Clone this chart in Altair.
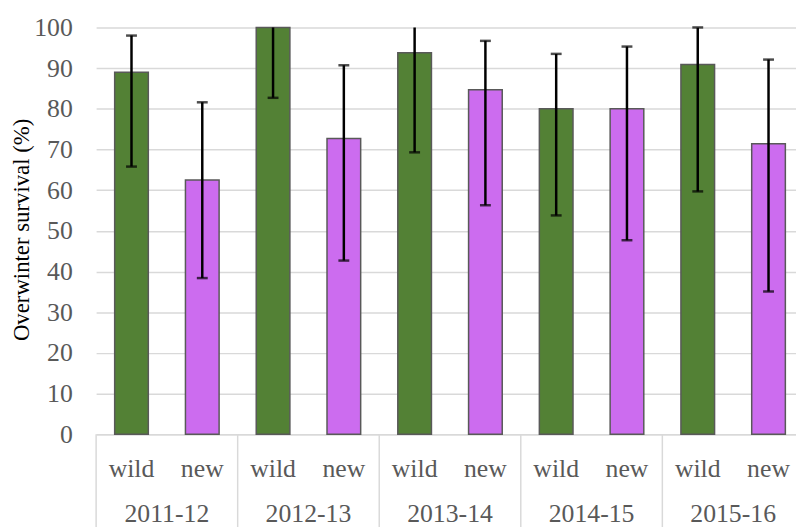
import altair as alt
import pandas as pd

years = ["2011-12", "2012-13", "2013-14", "2014-15", "2015-16"]
groups = ["wild", "new"]
wild = [89.0, 100.0, 93.8, 80.0, 90.9]
new = [62.5, 72.7, 84.7, 80.0, 71.4]
wild_lo = [65.8, 82.7, 69.3, 53.8, 59.7]
wild_hi = [98.0, 112.0, 110.0, 93.5, 100.0]
new_lo = [38.4, 42.7, 56.3, 47.7, 35.1]
new_hi = [81.6, 90.7, 96.7, 95.3, 92.1]

rows = []
for i, yr in enumerate(years):
    rows.append({"year": yr, "group": "wild", "key": yr + "|wild", "val": wild[i], "lo": wild_lo[i], "hi": wild_hi[i]})
    rows.append({"year": yr, "group": "new", "key": yr + "|new", "val": new[i], "lo": new_lo[i], "hi": new_hi[i]})
df = pd.DataFrame(rows)
keys = list(df["key"])

FONT = "Liberation Serif"
GREY = "#595959"
LIGHT = "#d9d9d9"

xenc = alt.X("key:N", sort=keys,
             scale=alt.Scale(range=[0, 715], paddingInner=0, paddingOuter=0),
             axis=alt.Axis(labels=False, ticks=False, title=None, grid=False,
                           domainColor=LIGHT, domainWidth=1.5))
yscale = alt.Scale(domain=[0, 100], nice=False)

base = alt.Chart(df)

bars = base.mark_bar(width=34, stroke=GREY, strokeWidth=1.5).encode(
    x=xenc,
    y=alt.Y("val:Q", scale=yscale,
            axis=alt.Axis(values=list(range(0, 101, 10)), labelFont=FONT, labelFontSize=26,
                          labelColor=GREY, labelPadding=24, ticks=False, domain=False,
                          gridColor=LIGHT, gridWidth=1.5,
                          title="Overwinter survival (%)", titleFont=FONT, titleFontSize=23,
                          titleFontWeight="normal", titleColor="black",
                          titleX=-75, titleY=204, titleAngle=270, titleBaseline="middle",
                          titleAlign="center")),
    color=alt.Color("group:N", scale=alt.Scale(domain=groups, range=["#538135", "#CC6CEF"]), legend=None),
)

err = base.mark_rule(color="black", strokeWidth=2.5, clip=True).encode(
    x=alt.X("key:N", sort=keys), y=alt.Y("lo:Q", scale=yscale), y2="hi:Q")

cap_lo = base.mark_tick(color="black", size=11, thickness=2.5).encode(
    x=alt.X("key:N", sort=keys), y=alt.Y("lo:Q", scale=yscale))
cap_hi = base.transform_filter("datum.hi <= 100.5").mark_tick(color="black", size=11, thickness=2.5).encode(
    x=alt.X("key:N", sort=keys), y=alt.Y("hi:Q", scale=yscale))

lab = base.mark_text(font=FONT, fontSize=26, color=GREY, baseline="middle").encode(
    x=alt.X("key:N", sort=keys), y=alt.value(446), text="group:N")

yrs = base.transform_filter("datum.group == 'wild'").mark_text(
    font=FONT, fontSize=26, color=GREY, baseline="middle", dx=35.75).encode(
    x=alt.X("key:N", sort=keys), y=alt.value(492), text="year:N")

sep = base.transform_filter("datum.group == 'wild'").mark_rule(color=LIGHT, strokeWidth=1.5).encode(
    x=alt.X("key:N", sort=keys, bandPosition=0), y=alt.value(411), y2=alt.value(520))

chart = alt.layer(bars, err, cap_lo, cap_hi, sep, lab, yrs).properties(
    width=707, height=411,
    autosize=alt.AutoSizeParams(type="none"),
    padding={"left": 89, "top": 17, "right": 0, "bottom": 91},
).configure_view(strokeWidth=0)

chart.save("out.html", embed_options={"renderer": "svg", "actions": False})
